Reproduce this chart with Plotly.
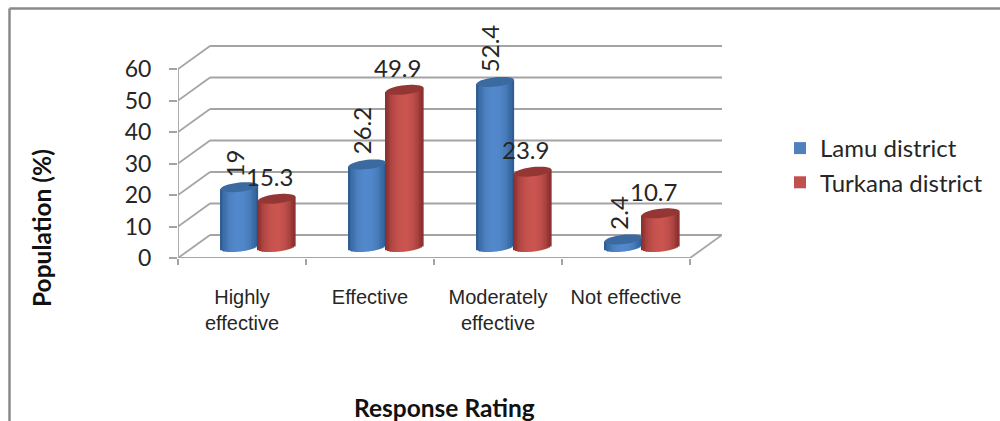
import math
import plotly.graph_objects as go

categories = ["Highly<br>effective", "Effective", "Moderately<br>effective", "Not effective"]
lamu = [19, 26.2, 52.4, 2.4]
turkana = [15.3, 49.9, 23.9, 10.7]
lamu_name = "Lamu district"
turkana_name = "Turkana district"
y_ticks = [0, 10, 20, 30, 40, 50, 60]

W, H = 1000, 421
L, R, T, B = 178, 278, 45, 163
PW, PH = W - L - R, H - T - B
PX_X = 128.0            # px per category
PX_Y = 3.15             # px per value unit
DX, DY = 32 / PX_X, 23 / PX_Y   # back wall offset
FLOOR = 11 / PX_Y       # bar base lift
SHIFT = 16 / PX_X       # bar x shift into floor
BW = 37.5 / PX_X        # one cylinder width
RY = 4.6 / PX_Y
TILT = 2.0 / PX_Y
STRIPS = 22
GRID = "#a4a4a4"
GW = 1.8

def px(x):
    return (x - L) / PW

def py(y):
    return (H - B - y) / PH

def shade(t, dark, mid):
    k = (1 - abs(t) ** 2.2)
    return "rgb(%d,%d,%d)" % tuple(round(d + (m - d) * k) for d, m in zip(dark, mid))

def cylinder_trace(values, cx_off, dark, mid):
    xs, ys, bases, cols = [], [], [], []
    w = BW / STRIPS
    for i, v in enumerate(values):
        cx = i + SHIFT + cx_off
        for s in range(STRIPS):
            t = -1 + (s + 0.5) * 2 / STRIPS
            curve = RY * math.sqrt(1 - t * t)
            b = FLOOR + TILT * t - curve
            top = FLOOR + v + TILT * t
            xs.append(cx + t * BW / 2)
            bases.append(b)
            ys.append(top - b)
            cols.append(shade(t, dark, mid))
    return go.Bar(x=xs, y=ys, base=bases, width=w * 1.15, marker=dict(color=cols, line=dict(width=0)),
                  showlegend=False, hoverinfo="skip")

def ellipse_shape(i, v, cx_off, color):
    cx = i + SHIFT + cx_off
    pts = []
    for k in range(40):
        a = 2 * math.pi * k / 40
        c, s = math.cos(a), math.sin(a)
        pts.append((cx + c * BW / 2, FLOOR + v + TILT * c + RY * s))
    path = "M " + " L ".join(f"{x:.4f},{y:.4f}" for x, y in pts) + " Z"
    return dict(type="path", path=path, xref="x", yref="y", fillcolor=color, line=dict(width=0), layer="above")

fig = go.Figure()
fig.add_trace(cylinder_trace(lamu, -BW / 2, (44, 90, 142), (82, 136, 204)))
fig.add_trace(cylinder_trace(turkana, BW / 2, (132, 46, 44), (202, 84, 80)))
fig.add_trace(go.Scatter(x=[None], y=[None], mode="markers", name=lamu_name,
                         marker=dict(symbol="square", size=14, color="#4f81bd")))
fig.add_trace(go.Scatter(x=[None], y=[None], mode="markers", name=turkana_name,
                         marker=dict(symbol="square", size=14, color="#c0504d")))

x0, x1 = -0.5, -0.5 + len(categories)
shapes = []
for v in y_ticks:
    shapes.append(dict(type="line", xref="x", yref="y", x0=x0, x1=x0 + DX, y0=v, y1=v + DY,
                       line=dict(color=GRID, width=GW), layer="below"))
    shapes.append(dict(type="line", xref="x", yref="y", x0=x0 + DX, x1=x1 + DX, y0=v + DY, y1=v + DY,
                       line=dict(color=GRID, width=GW), layer="below"))
shapes.append(dict(type="line", xref="x", yref="y", x0=x1, x1=x1 + DX, y0=0, y1=DY,
                   line=dict(color=GRID, width=GW), layer="below"))
shapes.append(dict(type="line", xref="x", yref="y", x0=x0, x1=x1, y0=0, y1=0,
                   line=dict(color=GRID, width=GW), layer="below"))
shapes.append(dict(type="line", xref="x", yref="y", x0=x0, x1=x0, y0=0, y1=60,
                   line=dict(color=GRID, width=GW), layer="below"))
for i, v in enumerate(lamu):
    shapes.append(ellipse_shape(i, v, -BW / 2, "#3a6a9f"))
for i, v in enumerate(turkana):
    shapes.append(ellipse_shape(i, v, BW / 2, "#943634"))
# outer frame
shapes.append(dict(type="line", xref="paper", yref="paper", x0=px(9.5), x1=px(9.5), y0=py(8.5), y1=py(421),
                   line=dict(color="#8a8a8a", width=2.5)))
shapes.append(dict(type="line", xref="paper", yref="paper", x0=px(9.5), x1=px(1000), y0=py(8.5), y1=py(8.5),
                   line=dict(color="#8a8a8a", width=2.5)))

annotations = []
LBL = dict(family="Lato", size=24, color="#262626")
for i, v in enumerate(lamu):
    annotations.append(dict(x=i + SHIFT - BW / 2, y=FLOOR + v, xref="x", yref="y", text=str(v), textangle=-90,
                            showarrow=False, font=LBL, xshift=-5, yanchor="bottom", yshift=8))
for i, v in enumerate(turkana):
    annotations.append(dict(x=i + SHIFT + BW / 2, y=FLOOR + v, xref="x", yref="y", text=str(v),
                            showarrow=False, font=LBL, xshift=-7, yanchor="middle", yshift=22))
TITLE = dict(family="Lato", size=24.5, color="#111111")
annotations.append(dict(x=px(444), y=py(407), xref="paper", yref="paper", text="<b>Response Rating</b>",
                        showarrow=False, font=TITLE, xanchor="center", yanchor="middle"))
annotations.append(dict(x=px(41), y=py(228), xref="paper", yref="paper", text="<b>Population (%)</b>", textangle=-90,
                        showarrow=False, font=TITLE, xanchor="center", yanchor="middle"))

fig.update_layout(
    width=W, height=H, margin=dict(l=L, r=R, t=T, b=B, autoexpand=False),
    paper_bgcolor="white", plot_bgcolor="white", barmode="overlay",
    shapes=shapes, annotations=annotations,
    legend=dict(x=px(780), y=py(126), xanchor="left", yanchor="top", font=dict(family="Lato", size=24, color="#262626"),
                itemsizing="constant", tracegroupgap=0, bgcolor="rgba(0,0,0,0)"),
    xaxis=dict(range=[x0, x1 + DX], tickmode="array", tickvals=list(range(len(categories))), ticktext=categories,
               showgrid=False, zeroline=False, showline=False, ticks="", ticklabelstandoff=25,
               tickfont=dict(family="Liberation Sans", size=20, color="#262626"),
               minor=dict(tickmode="array", tickvals=[x0 + i for i in range(len(categories) + 1)], ticks="outside",
                          ticklen=6, tickcolor=GRID, tickwidth=GW)),
    yaxis=dict(range=[0, PH / PX_Y], tickmode="array", tickvals=y_ticks, showgrid=False, zeroline=False, showline=False,
               ticks="outside", ticklen=8, tickcolor=GRID, tickwidth=GW, ticklabelstandoff=13,
               tickfont=dict(family="Lato", size=23, color="#262626")),
)
fig.write_html("out.html", config=dict(displayModeBar=False),
               post_script="document.body.style.margin='0';document.body.style.overflow='hidden';")
